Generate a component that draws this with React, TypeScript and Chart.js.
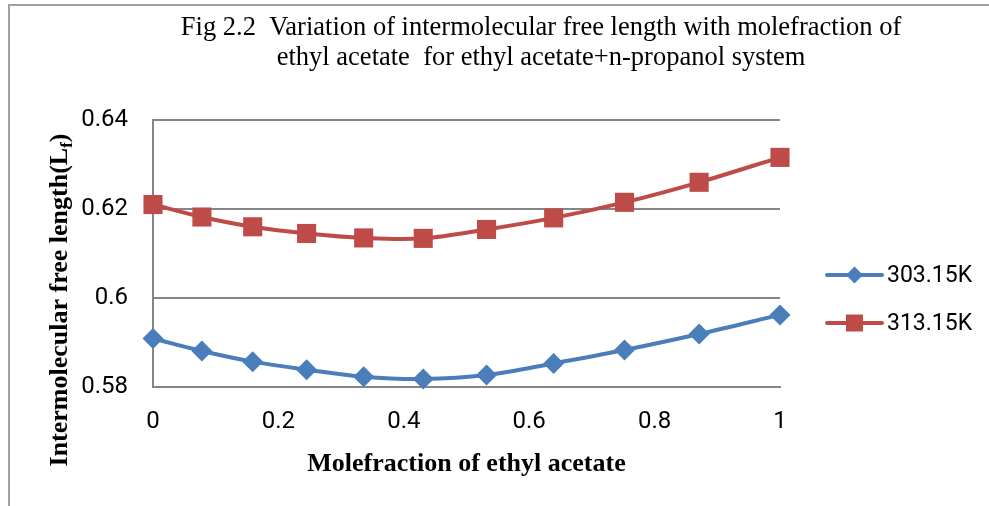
import React, { useEffect, useRef } from "react";
import { Chart, registerables } from "chart.js";

Chart.register(...registerables);

const titleLines = [
  "Fig 2.2  Variation of intermolecular free length with molefraction of",
  "ethyl acetate  for ethyl acetate+n-propanol system",
];
const xTitle = "Molefraction of ethyl acetate";
const yTitleMain = "Intermolecular free length(L";
const yTitleSub = "f";
const yTitleEnd = ")";

const moleFraction = [0, 0.078, 0.159, 0.245, 0.336, 0.431, 0.532, 0.639, 0.752, 0.871, 1.0];
const series303 = [0.5909, 0.5881, 0.5857, 0.5839, 0.5823, 0.5818, 0.5827, 0.5853, 0.5883, 0.5919, 0.5962];
const series313 = [0.621, 0.6182, 0.616, 0.6145, 0.6135, 0.6134, 0.6154, 0.618, 0.6215, 0.626, 0.6316];
const seriesNames = ["303.15K", "313.15K"];
const seriesColors = ["#4A7EBB", "#BE4B48"];
const seriesMarkers = ["rectRot", "rect"];

const xTicks = [0, 0.2, 0.4, 0.6, 0.8, 1];
const yTicks = [0.58, 0.6, 0.62, 0.64];

const SERIF = "'Liberation Serif', 'Times New Roman', serif";
const SANS = "Roboto, 'Liberation Sans', sans-serif";

function drawMarker(ctx: CanvasRenderingContext2D, kind: string, x: number, y: number, r: number, color: string) {
  ctx.save();
  ctx.fillStyle = color;
  ctx.beginPath();
  if (kind === "rect") {
    const s = r * Math.SQRT1_2;
    ctx.rect(x - s, y - s, 2 * s, 2 * s);
  } else {
    ctx.moveTo(x - r, y);
    ctx.lineTo(x, y - r);
    ctx.lineTo(x + r, y);
    ctx.lineTo(x, y + r);
    ctx.closePath();
  }
  ctx.fill();
  ctx.restore();
}

const decorPlugin = {
  id: "decor",
  afterDraw(chart: any) {
    const ctx: CanvasRenderingContext2D = chart.ctx;
    const area = chart.chartArea;
    ctx.save();
    // Title
    ctx.fillStyle = "#000";
    ctx.textAlign = "center";
    ctx.textBaseline = "alphabetic";
    ctx.font = `26.5px ${SERIF}`;
    ctx.fillText(titleLines[0], 541, 35);
    ctx.fillText(titleLines[1], 541, 65);

    // X axis title
    ctx.font = `bold 26px ${SERIF}`;
    ctx.fillText(xTitle, (area.left + area.right) / 2, 471);

    // Y axis title with subscript
    ctx.save();
    ctx.translate(67, 300);
    ctx.rotate(-Math.PI / 2);
    ctx.textAlign = "left";
    const mainFont = `bold 26px ${SERIF}`;
    const subFont = `bold 17px ${SERIF}`;
    ctx.font = mainFont;
    const w1 = ctx.measureText(yTitleMain).width;
    const w3 = ctx.measureText(yTitleEnd).width;
    ctx.font = subFont;
    const w2 = ctx.measureText(yTitleSub).width;
    const total = w1 + w2 + w3;
    let cx = -total / 2;
    ctx.font = mainFont;
    ctx.fillText(yTitleMain, cx, 0);
    cx += w1;
    ctx.font = subFont;
    ctx.fillText(yTitleSub, cx, 5);
    cx += w2;
    ctx.font = mainFont;
    ctx.fillText(yTitleEnd, cx, 0);
    ctx.restore();

    // Legend
    const lx = area.right + 47;
    const lineLen = 55;
    const rows = [area.top + 155, area.top + 203];
    seriesNames.forEach((name, i) => {
      const y = rows[i];
      ctx.strokeStyle = seriesColors[i];
      ctx.lineWidth = 4;
      ctx.lineCap = "round";
      ctx.beginPath();
      ctx.moveTo(lx, y);
      ctx.lineTo(lx + lineLen, y);
      ctx.stroke();
      drawMarker(ctx, seriesMarkers[i], lx + lineLen / 2, y, i === 0 ? 8.5 : 12, seriesColors[i]);
      ctx.fillStyle = "#000";
      ctx.font = `23px ${SANS}`;
      ctx.textAlign = "left";
      ctx.textBaseline = "middle";
      ctx.fillText(name, lx + lineLen + 5, y + 1);
    });
    ctx.restore();
  },
};

export default function App() {
  const canvasRef = useRef<HTMLCanvasElement | null>(null);

  useEffect(() => {
    const canvas = canvasRef.current;
    if (!canvas) return;
    const datasets = [series303, series313].map((vals, i) => ({
      label: seriesNames[i],
      data: vals.map((v, j) => ({ x: moleFraction[j], y: v })),
      borderColor: seriesColors[i],
      backgroundColor: seriesColors[i],
      borderWidth: 4,
      pointStyle: seriesMarkers[i] as any,
      pointRadius: i === 0 ? 10.5 : 13.5,
      pointBorderWidth: 0,
      pointBackgroundColor: seriesColors[i],
      tension: 0.35,
      clip: false as any,
    }));

    const chart = new Chart(canvas, {
      type: "line",
      data: { datasets },
      options: {
        animation: false,
        responsive: false,
        maintainAspectRatio: false,
        layout: { padding: { top: 120, left: 53, right: 209, bottom: 59 } },
        plugins: {
          legend: { display: false },
          title: { display: false },
          tooltip: { enabled: false },
        },
        scales: {
          x: {
            type: "linear",
            min: 0,
            max: 1,
            afterBuildTicks: (scale: any) => {
              scale.ticks = xTicks.map((v) => ({ value: v }));
            },
            afterFit: (scale: any) => {
              scale.height = 60;
            },
            grid: { display: false, drawTicks: false },
            border: { display: true, color: "#868686", width: 2 },
            ticks: {
              padding: 21,
              color: "#000",
              font: { family: SANS, size: 24 },
              callback: (v: any) => String(v),
            },
          },
          y: {
            type: "linear",
            min: 0.58,
            max: 0.64,
            afterBuildTicks: (scale: any) => {
              scale.ticks = yTicks.map((v) => ({ value: v }));
            },
            afterFit: (scale: any) => {
              scale.width = 100;
            },
            grid: { color: "#868686", lineWidth: 2, drawTicks: false },
            border: { display: true, color: "#868686", width: 2 },
            ticks: {
              padding: 25,
              color: "#000",
              font: { family: SANS, size: 24 },
              callback: (v: any) => String(Math.round(v * 100) / 100),
            },
          },
        },
      },
      plugins: [decorPlugin],
    });
    return () => chart.destroy();
  }, []);

  return (
    <div style={{ position: "fixed", left: 0, top: 0, width: 989, height: 506, background: "#fff", overflow: "hidden" }}>
      <div
        style={{
          position: "absolute",
          left: 8,
          top: 4,
          width: 1000,
          height: 520,
          borderTop: "2px solid #a0a0a0",
          borderLeft: "2px solid #a0a0a0",
        }}
      />
      <canvas ref={canvasRef} width={989} height={506} style={{ position: "absolute", left: 0, top: 0 }} />
    </div>
  );
}
